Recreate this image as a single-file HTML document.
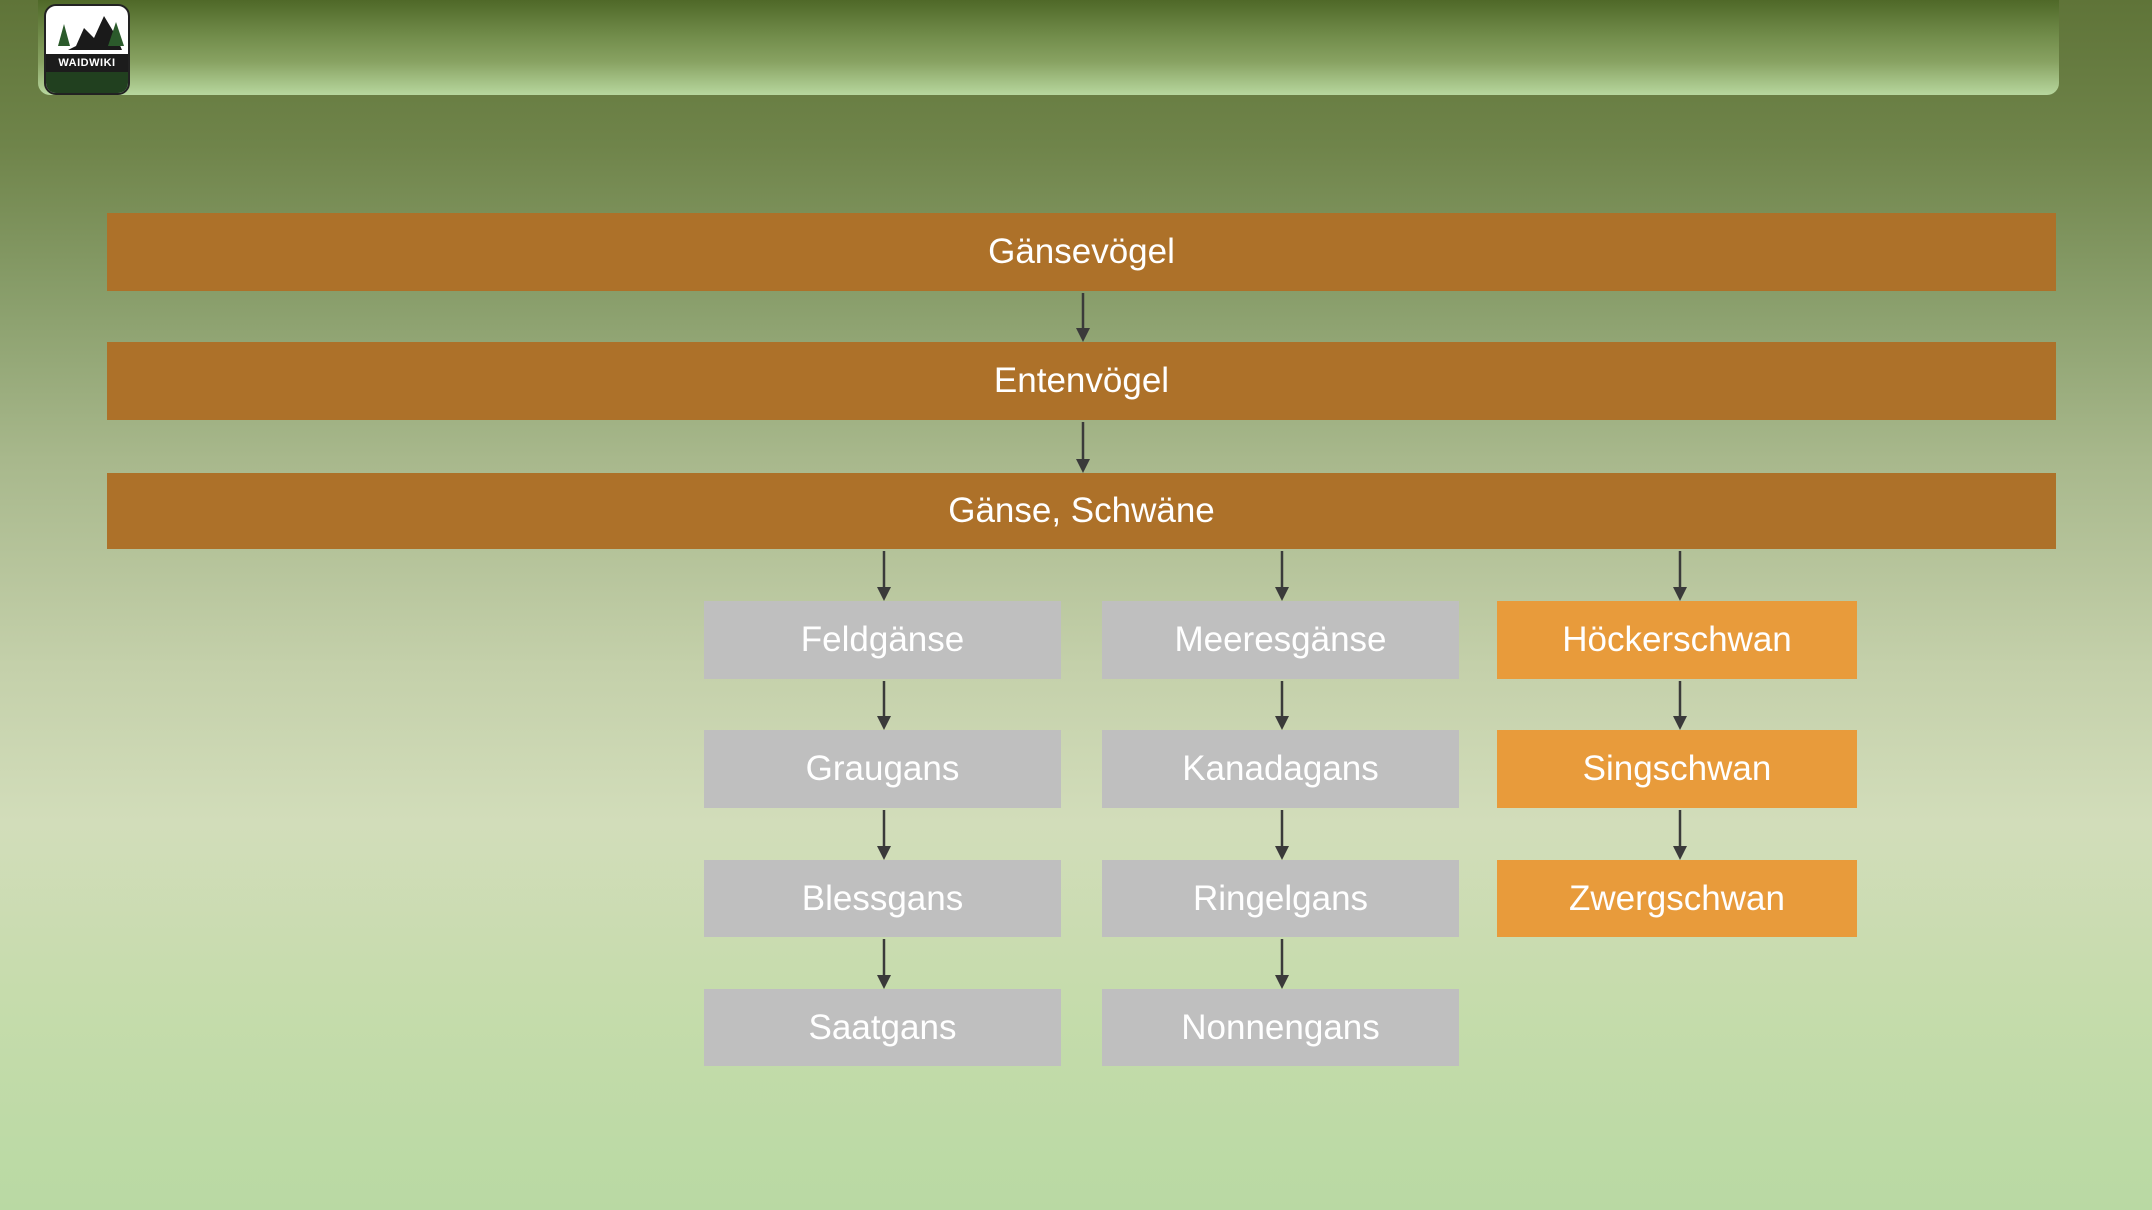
<!DOCTYPE html>
<html><head><meta charset="utf-8"><style>
html,body{margin:0;padding:0}
body{width:2152px;height:1210px;position:relative;overflow:hidden;font-family:"Liberation Sans",sans-serif;
background:linear-gradient(180deg,#5f7438 0%,#6f844a 12%,#8a9f6c 25%,#a8b88c 38%,#c4d0aa 55%,#d2ddba 68%,#c6dcac 82%,#b9d9a3 100%);}
.hdr{position:absolute;left:38px;top:0;width:2021px;height:95px;border-radius:0 0 12px 12px;
background:linear-gradient(180deg,#4f6828 0%,#6f8a48 35%,#88a262 65%,#b7d79e 100%);}
.logo{position:absolute;left:44px;top:4px;width:86px;height:91px;border-radius:12px;background:#fff;border:2px solid #222;overflow:hidden;box-sizing:border-box}
.logo .k{position:absolute;left:0;top:48px;width:100%;height:18px;background:#1c1c1c;color:#fff;font-size:11px;font-weight:bold;text-align:center;line-height:18px;letter-spacing:0.5px}
.logo .g{position:absolute;left:0;top:66px;width:100%;height:25px;background:#21401f}
.b{position:absolute;display:flex;align-items:center;justify-content:center;color:#fff;font-size:35px;font-family:"Liberation Sans Narrow","Liberation Sans",sans-serif}
.o{background:#ad7129;left:107px;width:1949px}
.gr{background:#bfbfbf}
.lo{background:#e89b3b}
svg{position:absolute;left:0;top:0}
</style></head><body>
<div class="hdr"></div>
<div class="logo">
<svg width="86" height="48" viewBox="0 0 86 48" style="position:absolute;left:0;top:0">
<polygon points="22,44 30,40 38,22 48,32 58,10 70,30 76,44" fill="#1a1a1a"/>
<polygon points="12,40 18,18 24,40" fill="#2b5a2b"/><polygon points="62,40 70,16 78,40" fill="#2b5a2b"/>
</svg>
<div class="k">WAIDWIKI</div><div class="g"></div></div>

<div class="b o" style="top:213px;height:78px">Gänsevögel</div>
<div class="b o" style="top:342px;height:78px">Entenvögel</div>
<div class="b o" style="top:473px;height:76px">Gänse, Schwäne</div>

<div class="b gr" style="left:704px;width:357px;top:601px;height:78px">Feldgänse</div>
<div class="b gr" style="left:704px;width:357px;top:730px;height:78px">Graugans</div>
<div class="b gr" style="left:704px;width:357px;top:860px;height:77px">Blessgans</div>
<div class="b gr" style="left:704px;width:357px;top:989px;height:77px">Saatgans</div>

<div class="b gr" style="left:1102px;width:357px;top:601px;height:78px">Meeresgänse</div>
<div class="b gr" style="left:1102px;width:357px;top:730px;height:78px">Kanadagans</div>
<div class="b gr" style="left:1102px;width:357px;top:860px;height:77px">Ringelgans</div>
<div class="b gr" style="left:1102px;width:357px;top:989px;height:77px">Nonnengans</div>

<div class="b lo" style="left:1497px;width:360px;top:601px;height:78px">Höckerschwan</div>
<div class="b lo" style="left:1497px;width:360px;top:730px;height:78px">Singschwan</div>
<div class="b lo" style="left:1497px;width:360px;top:860px;height:77px">Zwergschwan</div>

<svg width="2152" height="1210">
<defs><marker id="a" markerWidth="10" markerHeight="10" refX="5" refY="8" orient="auto" markerUnits="userSpaceOnUse"><path d="M0,0 L10,0 L5,10 z" fill="#3a3a3a" transform="translate(0,-2)"/></marker></defs>
<g stroke="#3a3a3a" stroke-width="2.5" fill="none">
<line x1="1083" y1="293" x2="1083" y2="332"/>
<line x1="1083" y1="422" x2="1083" y2="463"/>
<line x1="884" y1="551" x2="884" y2="591"/><line x1="1282" y1="551" x2="1282" y2="591"/><line x1="1680" y1="551" x2="1680" y2="591"/>
<line x1="884" y1="681" x2="884" y2="720"/><line x1="1282" y1="681" x2="1282" y2="720"/><line x1="1680" y1="681" x2="1680" y2="720"/>
<line x1="884" y1="810" x2="884" y2="850"/><line x1="1282" y1="810" x2="1282" y2="850"/><line x1="1680" y1="810" x2="1680" y2="850"/>
<line x1="884" y1="939" x2="884" y2="979"/><line x1="1282" y1="939" x2="1282" y2="979"/>
</g>
<g fill="#3a3a3a">
<path d="M1076,328 L1090,328 L1083,342 z"/><path d="M1076,459 L1090,459 L1083,473 z"/>
<path d="M877,587 L891,587 L884,601 z"/><path d="M1275,587 L1289,587 L1282,601 z"/><path d="M1673,587 L1687,587 L1680,601 z"/>
<path d="M877,716 L891,716 L884,730 z"/><path d="M1275,716 L1289,716 L1282,730 z"/><path d="M1673,716 L1687,716 L1680,730 z"/>
<path d="M877,846 L891,846 L884,860 z"/><path d="M1275,846 L1289,846 L1282,860 z"/><path d="M1673,846 L1687,846 L1680,860 z"/>
<path d="M877,975 L891,975 L884,989 z"/><path d="M1275,975 L1289,975 L1282,989 z"/>
</g>
</svg>
</body></html>
